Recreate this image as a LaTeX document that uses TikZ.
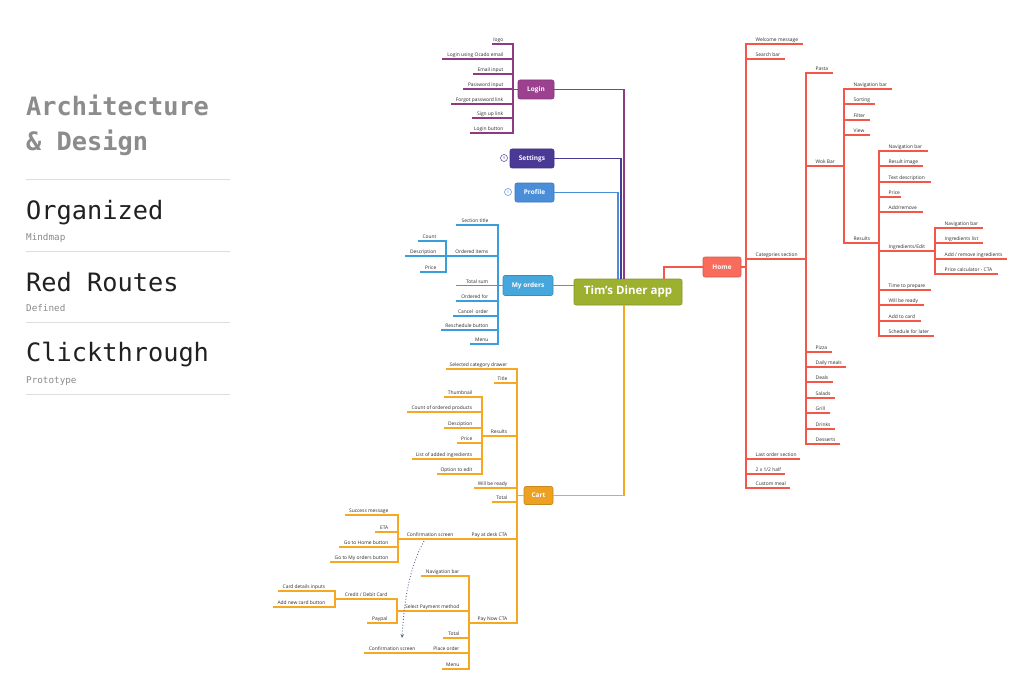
\documentclass[tikz,border=0pt]{standalone}
\usepackage{fontspec}
\setmainfont{Open Sans}
\newfontfamily\monof{DejaVu Sans Mono}
\usetikzlibrary{arrows.meta}
\definecolor{cLL}{HTML}{8E3B82}
\definecolor{cLogin}{HTML}{9C4190}
\definecolor{cSet}{HTML}{4A3A96}
\definecolor{cProf}{HTML}{4A8DD8}
\definecolor{cMO}{HTML}{45A7DC}
\definecolor{cMOl}{HTML}{3A9FD8}
\definecolor{cCart}{HTML}{EDA022}
\definecolor{cCa}{HTML}{F7A823}
\definecolor{cHome}{HTML}{F96B5B}
\definecolor{cHo}{HTML}{F5564A}
\definecolor{cCen}{HTML}{9DB030}
\definecolor{leafgray}{HTML}{2E2E2E}
\definecolor{titlegray}{HTML}{8C8C8C}
\definecolor{subgray}{HTML}{8A8A8A}
\definecolor{sepgray}{HTML}{DDDDDD}
\definecolor{arrowc}{HTML}{5B6B8C}
\tikzset{
  leaf/.style={font=\fontsize{4.9}{5.5}\selectfont, text=leafgray, inner sep=0pt},
  branch/.style={line width=1.4pt, line cap=rect},
  conn/.style={line width=1.2pt},
  mbox/.style={rounded corners=2pt, inner sep=0pt, text=white,
    font=\bfseries\fontsize{6.5}{7}\selectfont, draw=#1!85!black, fill=#1, line width=0.6pt},
  knob/.style={circle, draw=#1, fill=white, inner sep=0pt, minimum size=7pt,
    text=#1, font=\fontsize{3.5}{3.5}\selectfont, line width=0.5pt},
  bigt/.style={font=\monof\fontsize{25.3}{27}\selectfont, anchor=base west, inner sep=0pt},
  subt/.style={font=\monof\fontsize{9.3}{10}\selectfont, text=subgray, anchor=base west, inner sep=0pt},
  sep/.style={draw=sepgray, line width=0.8pt}
}
% left leaf: color, name, y, x of parent vertical, x of far end, text
\newcommand\LLf[6]{%
  \node[leaf,anchor=base east] (#2) at (#4-9.5,#3-2.5) {#6};
  \draw[branch,draw=#1] (#5,#3) -- (#4,#3);}
% right leaf
\newcommand\RLf[6]{%
  \node[leaf,anchor=base west] (#2) at (#4+9.5,#3-2.5) {#6};
  \draw[branch,draw=#1] (#4,#3) -- (#5,#3);}
\newcommand\Vl[4]{\draw[branch,draw=#1] (#2,#3) -- (#2,#4);}
\begin{document}
\begin{tikzpicture}[x=1pt,y=-1pt]
\useasboundingbox (0,0) rectangle (1024,695);
\fill[white] (0,0) rectangle (1024,695);

% ---------- left panel ----------
\node[bigt,text=titlegray,font=\monof\bfseries\fontsize{25.3}{27}\selectfont] (t1) at (26,116) {Architecture};
\node[bigt,text=titlegray,font=\monof\bfseries\fontsize{25.3}{27}\selectfont] (t2) at (26,150) {\&\ Design};
\draw[sep] (26,179) -- (230,179);
\node[bigt,text=black!87] (t3) at (26,219) {Organized};
\node[subt] (s3) at (26,240) {Mindmap};
\draw[sep] (26,251) -- (230,251);
\node[bigt,text=black!87] (t4) at (26,291) {Red Routes};
\node[subt] (s4) at (26,311) {Defined};
\draw[sep] (26,322) -- (230,322);
\node[bigt,text=black!87] (t5) at (26,361) {Clickthrough};
\node[subt] (s5) at (26,383) {Prototype};
\draw[sep] (26,394) -- (230,394);

% ---------- main nodes ----------
\node[mbox=cCen, minimum width=108pt, minimum height=26pt,
  font=\bfseries\fontsize{11.5}{12}\selectfont] (cen) at (628,292) {Tim's Diner app};
\node[mbox=cLogin, minimum width=36pt, minimum height=19pt] (login) at (536,89.5) {Login};
\node[mbox=cSet, minimum width=44pt, minimum height=19pt] (settings) at (532,158.5) {Settings};
\node[mbox=cProf, minimum width=39pt, minimum height=19pt] (profile) at (534.5,192.5) {Profile};
\node[mbox=cMO, minimum width=50pt, minimum height=20pt] (orders) at (528,285.5) {My orders};
\node[mbox=cCart, minimum width=29pt, minimum height=18pt] (cart) at (538.5,495.5) {Cart};
\node[mbox=cHome, minimum width=38pt, minimum height=20pt] (home) at (722,267) {Home};
\node[knob=cSet] (setk) at (504,158) {9};
\node[knob=cProf] (profk) at (508,192) {5};

% ---------- main connectors ----------
\draw[conn,cLL] (login.east) -| ([xshift=-4pt]cen.north);
\draw[conn,cSet] (settings.east) -| ([xshift=-7pt]cen.north);
\draw[conn,cProf] (profile.east) -| ([xshift=-10pt]cen.north);
\draw[conn,cMOl] (orders.east) -- (cen.west |- orders.east);
\draw[conn,cCa] (cart.east) -| ([xshift=-4pt]cen.south);
\draw[conn,cHo] ([xshift=36pt]cen.north) |- (home.west);

% ---------- Login ----------
\LLf{cLL}{lg1}{44}{513}{493}{logo}
\LLf{cLL}{lg2}{59}{513}{443}{Login using Ocado email}
\LLf{cLL}{lg3}{74}{513}{474}{Email input}
\LLf{cLL}{lg4}{89}{513}{464}{Password input}
\LLf{cLL}{lg5}{104}{513}{452}{Forgot password link}
\LLf{cLL}{lg6}{118}{513}{473}{Sign up link}
\LLf{cLL}{lg7}{133}{513}{471}{Login button}
\Vl{cLL}{513}{44}{133}
\draw[branch,cLL] (513,89.5) -- (login.west);

% ---------- My orders ----------
\LLf{cMOl}{mo1}{225}{498}{457}{Section title}
\LLf{cMOl}{mo2}{256}{498}{446}{Ordered items}
\LLf{cMOl}{mo3}{285.5}{498}{457}{Total sum}
\LLf{cMOl}{mo4}{301}{498}{457}{Ordered for}
\LLf{cMOl}{mo5}{316}{498}{454}{Cancel~ order}
\LLf{cMOl}{mo6}{330}{498}{442}{Reschedule button}
\LLf{cMOl}{mo7}{344}{498}{471}{Menu}
\Vl{cMOl}{498}{225}{344}
\draw[branch,cMOl] (498,285.5) -- (orders.west);
\LLf{cMOl}{oi1}{241}{446}{419}{Count}
\LLf{cMOl}{oi2}{256}{446}{406}{Description}
\LLf{cMOl}{oi3}{272}{446}{421}{Price}
\Vl{cMOl}{446}{241}{272}

% ---------- Cart ----------
\LLf{cCa}{ca1}{369}{517}{447}{Selected category drawer}
\LLf{cCa}{ca2}{383}{517}{495}{Title}
\LLf{cCa}{ca3}{436}{517}{482}{Results}
\LLf{cCa}{ca4}{488}{517}{475}{Will be ready}
\LLf{cCa}{ca5}{502}{517}{493}{Total}
\LLf{cCa}{ca6}{539}{517}{463}{Pay at desk CTA}
\LLf{cCa}{ca7}{623}{517}{469}{Pay Now CTA}
\Vl{cCa}{517}{369}{623}
\draw[branch,cCa] (517,495.5) -- (cart.west);
\LLf{cCa}{cr1}{397}{482}{445}{Thumbnail}
\LLf{cCa}{cr2}{412}{482}{408}{Count of ordered products}
\LLf{cCa}{cr3}{428}{482}{445}{Desciption}
\LLf{cCa}{cr4}{443}{482}{458}{Price}
\LLf{cCa}{cr5}{459}{482}{413}{List of added ingredients}
\LLf{cCa}{cr6}{474}{482}{438}{Option to edit}
\Vl{cCa}{482}{397}{474}
\LLf{cCa}{pd1}{539}{463}{398}{Confirmation screen}
\LLf{cCa}{cs1}{515}{398}{346}{Success message}
\LLf{cCa}{cs2}{532}{398}{376}{ETA}
\LLf{cCa}{cs3}{547}{398}{340}{Go to Home button}
\LLf{cCa}{cs4}{562}{398}{331}{Go to My orders button}
\Vl{cCa}{398}{515}{562}
\LLf{cCa}{pn1}{576}{469}{422}{Navigation bar}
\LLf{cCa}{pn2}{611}{469}{397}{Select Payment method}
\LLf{cCa}{pn3}{638}{469}{444}{Total}
\LLf{cCa}{pn4}{653}{469}{425}{Place order}
\LLf{cCa}{pn5}{669}{469}{443}{Menu}
\Vl{cCa}{469}{576}{669}
\LLf{cCa}{po1}{653}{425}{365}{Confirmation screen}
\LLf{cCa}{sp1}{599}{397}{335}{Credit / Debit Card}
\LLf{cCa}{sp2}{623}{397}{368}{Paypal}
\Vl{cCa}{397}{599}{623}
\LLf{cCa}{cd1}{591}{335}{279}{Card details inputs}
\LLf{cCa}{cd2}{607}{335}{274}{Add new card button}
\Vl{cCa}{335}{591}{607}

% dotted arrow
\coordinate (da) at (424,541);
\coordinate (db) at (402,638);
\draw[arrowc, line width=0.9pt, dotted, -{Stealth[length=4pt,width=3.5pt]}]
  (da) .. controls (408,570) and (404,605) .. (db);

% ---------- Home ----------
\RLf{cHo}{h1}{44}{746}{802}{Welcome message}
\RLf{cHo}{h2}{59}{746}{784}{Search bar}
\RLf{cHo}{h3}{259}{746}{806}{Categories section}
\RLf{cHo}{h4}{459}{746}{799}{Last order section}
\RLf{cHo}{h5}{474}{746}{784}{2 x 1/2 half}
\RLf{cHo}{h6}{488}{746}{789}{Custom meal}
\Vl{cHo}{746}{44}{488}
\draw[branch,cHo] (home.east) -- (746,267);
\RLf{cHo}{c1}{73}{806}{832}{Pasta}
\RLf{cHo}{c2}{166}{806}{844}{Wok Bar}
\RLf{cHo}{c3}{352}{806}{831}{Pizza}
\RLf{cHo}{c4}{367}{806}{845}{Daily meals}
\RLf{cHo}{c5}{382}{806}{832}{Deals}
\RLf{cHo}{c6}{398}{806}{834}{Salads}
\RLf{cHo}{c7}{413}{806}{829}{Grill}
\RLf{cHo}{c8}{429}{806}{834}{Drinks}
\RLf{cHo}{c9}{444}{806}{839}{Desserts}
\Vl{cHo}{806}{73}{444}
\RLf{cHo}{w1}{89}{844}{891}{Navigation bar}
\RLf{cHo}{w2}{104}{844}{874}{Sorting}
\RLf{cHo}{w3}{120}{844}{869}{Filter}
\RLf{cHo}{w4}{135}{844}{869}{View}
\RLf{cHo}{w5}{243}{844}{879}{Results}
\Vl{cHo}{844}{89}{243}
\RLf{cHo}{r1}{151}{879}{927}{Navigation bar}
\RLf{cHo}{r2}{166}{879}{922}{Result image}
\RLf{cHo}{r3}{182}{879}{930}{Text description}
\RLf{cHo}{r4}{197}{879}{900}{Price}
\RLf{cHo}{r5}{212}{879}{922}{Add/remove}
\RLf{cHo}{r6}{251}{879}{935}{Ingredients/Edit}
\RLf{cHo}{r7}{290}{879}{930}{Time to prepare}
\RLf{cHo}{r8}{305}{879}{923}{Will be ready}
\RLf{cHo}{r9}{321}{879}{920}{Add to card}
\RLf{cHo}{r10}{336}{879}{933}{Schedule for later}
\Vl{cHo}{879}{151}{336}
\RLf{cHo}{i1}{228}{935}{982}{Navigation bar}
\RLf{cHo}{i2}{243}{935}{982}{Ingredients list}
\RLf{cHo}{i3}{259}{935}{1006}{Add / remove ingredients}
\RLf{cHo}{i4}{274}{935}{997}{Price calculator - CTA}
\Vl{cHo}{935}{228}{274}
\end{tikzpicture}
\end{document}
